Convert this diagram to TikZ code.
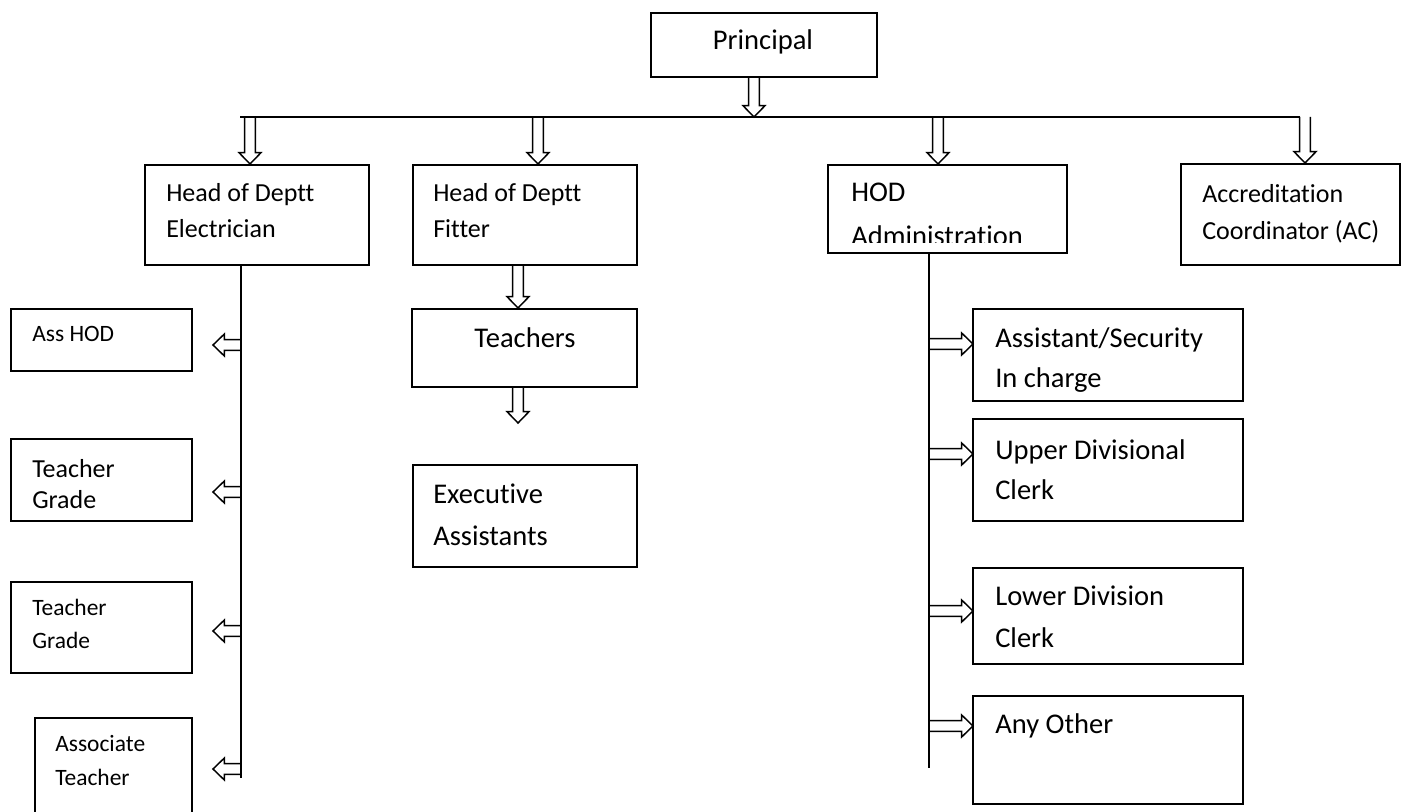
\documentclass[tikz,border=0pt]{standalone}
\usepackage{fontspec}
\setmainfont{Carlito}[Ligatures=CommonOff]
\usetikzlibrary{calc,fit}

\tikzset{
  box/.style={draw, line width=1.5pt, inner sep=0pt},
  conn/.style={line width=1.5pt},
  blk/.style={line width=1.1pt, line join=miter},
  lefttext/.style={anchor=base west, inner sep=0pt, text width=220pt, align=flush left},
  midtext/.style={font=\fontsize{19.5}{#1}\selectfont},
  bigtext/.style={font=\fontsize{21.4}{#1}\selectfont},
  smalltext/.style={font=\fontsize{17.6}{#1}\selectfont},
}

% hollow block arrow from #1 to #2
\newcommand\blockarrow[2]{%
  \path ($(#2)!8.5pt!(#1)$) coordinate (ah);
  \draw[blk] ($(#1)!4pt!90:(#2)$) -- ($(ah)!4pt!-90:(#1)$) -- ($(ah)!8.25pt!-90:(#1)$)
    -- (#2) -- ($(ah)!8.25pt!90:(#1)$) -- ($(ah)!4pt!90:(#1)$) -- ($(#1)!4pt!-90:(#2)$);}

\begin{document}
\begin{tikzpicture}[x=0.75pt, y=-0.75pt]
\path[use as bounding box, fill=white] (0,0) rectangle (1405,812);

\node[box, fit={(651,13) (877,77)}] (prin) {};
\node[bigtext=22, anchor=base, inner sep=0pt] (prin-t) at (763,50) {Principal};

\coordinate (bp) at (754,117);
\coordinate (b1) at (250,117);
\coordinate (b2) at (538,117);
\coordinate (b3) at (938,117);
\coordinate (b4) at (1305,117);
\draw[conn] (240,117) -- (1300,117);
\blockarrow{prin.south -| bp}{bp}

\node[box, fit={(145,165) (369,265)}] (elec) {};
\node[lefttext, midtext=27] (elec-t) at (166,202) {Head of Deptt\\Electrician};
\node[box, fit={(413,165) (637,265)}] (fitter) {};
\node[lefttext, midtext=27] (fitter-t) at (433,202) {Head of Deptt\\Fitter};
\node[box, fit={(828,165) (1067,253)}] (hodadm) {};
\begin{scope}
\clip (828,165) rectangle (1067,243);
\node[lefttext, bigtext=33] (hodadm-t) at (851,202) {HOD\\Administration};
\end{scope}
\node[box, fit={(1181,164) (1400,265)}] (accr) {};
\node[lefttext, midtext=27.5] (accr-t) at (1202,203) {Accreditation\\Coordinator (AC)};

\blockarrow{b1}{b1 |- elec.north}
\blockarrow{b2}{b2 |- fitter.north}
\blockarrow{b3}{b3 |- hodadm.north}
\blockarrow{b4}{b4 |- accr.north}

% Electrician side
\coordinate (ev) at (241,778);
\draw[conn] (elec.south -| ev) -- (ev);
\node[box, fit={(11,309) (192,371)}] (asshod) {};
\node[lefttext, smalltext=24] (asshod-t) at (32,342) {Ass HOD};
\node[box, fit={(11,439) (192,521)}] (tgradea) {};
\node[lefttext, midtext=23.5] (tgradea-t) at (32,477) {Teacher\\Grade};
\node[box, fit={(11,582) (192,673)}] (tgradeb) {};
\node[lefttext, smalltext=25] (tgradeb-t) at (32,615) {Teacher\\Grade};
\node[box, fit={(35,718) (192,816)}] (assoc) {};
\node[lefttext, smalltext=25.5] (assoc-t) at (55,751) {Associate\\Teacher};
\foreach \n/\y in {1/345, 2/492, 3/631, 4/769} {
  \coordinate (la\n) at (213,\y);
  \blockarrow{ev |- la\n}{la\n}
}

% Fitter side
\coordinate (fv) at (518,423);
\node[box, fit={(412,309) (637,387)}] (teachers) {};
\node[bigtext=22, anchor=base, inner sep=0pt] (teachers-t) at (525,348) {Teachers};
\blockarrow{fitter.south -| fv}{teachers.north -| fv}
\blockarrow{teachers.south -| fv}{fv}
\node[box, fit={(413,465) (637,567)}] (exec) {};
\node[lefttext, bigtext=31.5] (exec-t) at (433,503) {Executive\\Assistants};

% Administration side
\coordinate (hv) at (929,768);
\draw[conn] (hodadm.south -| hv) -- (hv);
\node[box, fit={(973,309) (1243,401)}] (asst) {};
\begin{scope}
\clip (973,309) rectangle (1243,393);
\node[lefttext, bigtext=30] (asst-t) at (995,348) {Assistant/Security\\In charge};
\end{scope}
\node[box, fit={(973,419) (1243,521)}] (udc) {};
\node[lefttext, bigtext=30] (udc-t) at (995,459) {Upper Divisional\\Clerk};
\node[box, fit={(973,568) (1243,664)}] (ldc) {};
\node[lefttext, bigtext=31.5] (ldc-t) at (995,605) {Lower Division\\Clerk};
\node[box, fit={(973,696) (1243,804)}] (other) {};
\node[lefttext, bigtext=22] (other-t) at (995,733) {Any Other};
\foreach \n/\y in {1/344, 2/454, 3/611, 4/726} {
  \coordinate (ra\n) at (973,\y);
  \blockarrow{hv |- ra\n}{ra\n}
}

\end{tikzpicture}
\end{document}
